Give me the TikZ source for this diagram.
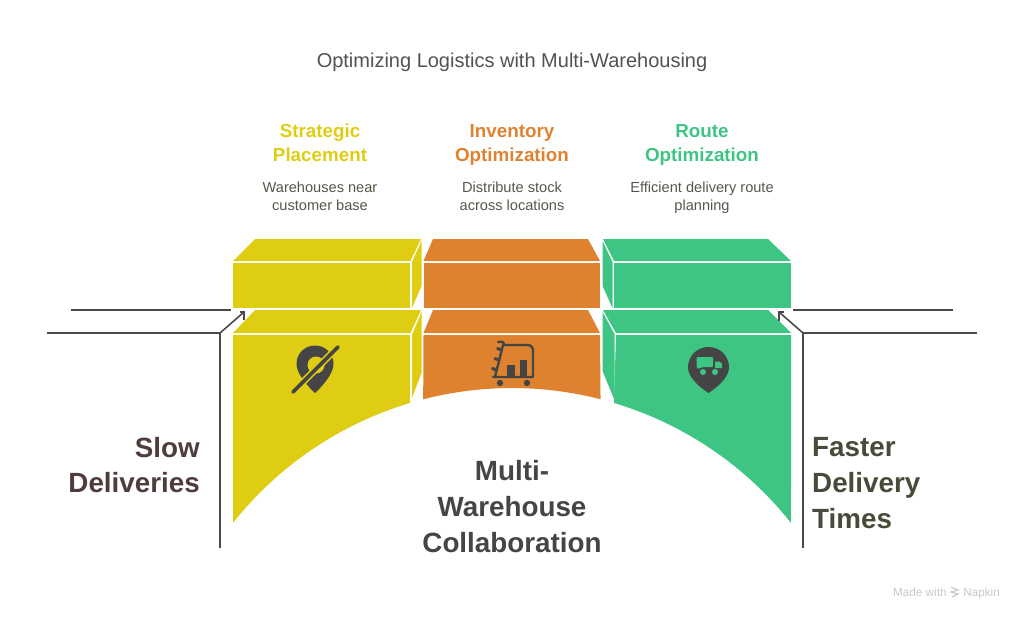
\documentclass[tikz,border=0pt]{standalone}
\usepackage{fontspec}
\setmainfont{Liberation Sans}
\definecolor{cy}{HTML}{DFCD14}
\definecolor{co}{HTML}{DF8230}
\definecolor{cg}{HTML}{3EC584}
\definecolor{ink}{HTML}{454545}
\definecolor{lin}{HTML}{4A4A4A}
\definecolor{cdesc}{HTML}{56564C}
\definecolor{cslow}{HTML}{503C3C}
\definecolor{cfast}{HTML}{464B3A}
\newcommand{\st}{\rule[-.22em]{0pt}{.94em}}
\tikzset{
  x=1pt,y=-1pt,
  conn/.style={draw=lin,line width=1.6pt,line join=miter},
  ttl/.style={text=#1,font=\bfseries\fontsize{18.8}{24}\selectfont,align=center,inner sep=0pt},
  desc/.style={text=cdesc,font=\fontsize{14.6}{18}\selectfont,align=center,inner sep=0pt},
  big/.style={text=#1,font=\bfseries\fontsize{27.8}{35.7}\selectfont,inner sep=0pt},
  foot/.style={inner sep=0pt,text=black!22,font=\fontsize{11.7}{13}\selectfont},
  iconline/.style={draw=ink,line width=2.4pt,line cap=round,line join=round},
}
\begin{document}
\begin{tikzpicture}
\useasboundingbox (0,0) rectangle (1024,619);
% upper row
\fill[cy] (233,261) -- (255,239) -- (421,239) -- (410.5,261) -- cycle;
\fill[cy] (233,263) rectangle (410,308);
\fill[cy] (412,262) -- (421.5,241) -- (421.5,286) -- (412,308) -- cycle;
\fill[co] (423.5,261) -- (433,239) -- (588,239) -- (600,261) -- cycle;
\fill[co] (423.5,263) rectangle (600,308);
\fill[cg] (614,261) -- (603,239) -- (768,239) -- (791,261) -- cycle;
\fill[cg] (614,263) rectangle (791,308);
\fill[cg] (602.5,241) -- (612.5,262) -- (612.5,308) -- (602.5,286) -- cycle;
% lower row
\fill[cy] (233,333) -- (255,310) -- (421,310) -- (410.5,333) -- cycle;
\fill[cy] (233,335) -- (410,335) -- plot[domain=-16.65:-51.6,samples=30] ({512+356*sin(\x)},{744-356*cos(\x)}) -- cycle;
\fill[cy] (412,335) -- (421.5,312) -- (421.5,373) -- (412,398) -- cycle;
\fill[co] (423.5,333) -- (433,310) -- (588,310) -- (600,333) -- cycle;
\fill[co] (423.5,335) -- (600,335) -- plot[domain=14.4:-14.45,samples=20] ({512+356*sin(\x)},{744-356*cos(\x)}) -- cycle;
\fill[cg] (616,333) -- (603,310) -- (768,310) -- (791,333) -- cycle;
\fill[cg] (616,335) -- (791,335) -- plot[domain=51.6:16.65,samples=30] ({512+356*sin(\x)},{744-356*cos(\x)}) -- cycle;
\fill[cg] (602.5,312) -- (614.5,334) -- (614.5,400) -- (602.5,371) -- cycle;
% connectors
\coordinate (la) at (71,310);   \coordinate (lb) at (231,310);
\coordinate (lc) at (47,333);   \coordinate (ld) at (220,333);
\coordinate (le) at (220,548);  \coordinate (lf) at (244,312);
\coordinate (lg) at (240,312);  \coordinate (lh) at (244,319.5);
\coordinate (ra) at (953,310);  \coordinate (rb) at (793,310);
\coordinate (rc) at (977,333);  \coordinate (rd) at (803,333);
\coordinate (re) at (803,548);  \coordinate (rf) at (779,312);
\coordinate (rg) at (784,312);  \coordinate (rh) at (779,320.5);
\draw[conn] (la) -- (lb);
\draw[conn] (lc) -- (ld) -- (le);
\draw[conn] (ld) -- (lf);
\draw[conn] (lg) -- (lf) -- (lh);
\draw[conn] (ra) -- (rb);
\draw[conn] (rc) -- (rd) -- (re);
\draw[conn] (rd) -- (rf);
\draw[conn] (rg) -- (rf) -- (rh);
% pin-off icon
\fill[ink] (296.5,364) .. controls (296.5,353.6) and (304.6,345.5) .. (315,345.5)
  .. controls (325.4,345.5) and (333.5,353.6) .. (333.5,364)
  .. controls (333.5,374) and (321.5,387) .. (315,393)
  .. controls (308.5,387) and (296.5,374) .. (296.5,364) -- cycle;
\fill[cy] (316,365) circle (8.5);
\fill[cy] (324,345) -- (345,345) -- (345,350) -- (334,358) -- cycle;
\draw[cy,line width=7pt] (293,392) -- (338,347);
\draw[ink,line width=3.6pt,line cap=round] (293,392) -- (338,347);
% cart icon
\draw[iconline] (503,345) -- (527,345) .. controls (531,345) and (533,347) .. (533,351) -- (533,377) -- (493,377);
\draw[iconline] (498,342) .. controls (503,341) and (505,343) .. (503,345) -- (495,377);
\draw[iconline,line width=3pt] (501.5,350) -- (497.5,348.5);
\draw[iconline,line width=3pt] (499,360) -- (495,358.5);
\draw[iconline,line width=3pt] (496.5,370) -- (492.5,368.5);
\fill[ink] (507,365) rectangle (515,377);
\fill[ink] (520,360) rectangle (527,377);
\fill[ink] (500,383) circle (3.2);
\fill[ink] (527,383) circle (3.2);
% truck pin icon
\fill[ink] (688,367.5) .. controls (688,356) and (697,347) .. (708.5,347)
  .. controls (720,347) and (729,356) .. (729,367.5)
  .. controls (729,378) and (716,388) .. (708.5,393)
  .. controls (701,388) and (688,378) .. (688,367.5) -- cycle;
\fill[cg,rounded corners=1pt] (696.5,357) -- (713,357) -- (713,367) -- (703,367) -- (698,369) -- (696.5,367) -- cycle;
\fill[cg] (715,361.5) -- (719.5,361.5) -- (722,364) -- (722,368) -- (715,368) -- cycle;
\fill[cg] (703,372) circle (3);
\fill[cg] (715,372) circle (3);
% texts
\node[inner sep=0pt,text=black!68,font=\fontsize{20}{24}\selectfont] (title) at (512,62) {\st Optimizing Logistics with Multi-Warehousing};
\node[ttl=cy] (t1) at (320,145) {\st Strategic\\\st Placement};
\node[ttl=co] (t2) at (512,145) {\st Inventory\\\st Optimization};
\node[ttl=cg] (t3) at (702,145) {\st Route\\\st Optimization};
\node[desc] (d1) at (320,198) {\st Warehouses near\\\st customer base};
\node[desc] (d2) at (512,198) {\st Distribute stock\\\st across locations};
\node[desc] (d3) at (702,198) {\st Efficient delivery route\\\st planning};
\node[big=cslow,align=right,anchor=east] (slow) at (200,468) {\st Slow\\\st Deliveries};
\node[big=ink,align=center] (multi) at (512,509.5) {\st Multi-\\\st Warehouse\\\st Collaboration};
\node[big=cfast,align=left,anchor=west] (fast) at (812,485.5) {\st Faster\\\st Delivery\\\st Times};
\node[foot,anchor=base west] (made) at (893,596) {Made with};
\node[foot,anchor=base east] (nap) at (1000,596) {Napkin};
\draw[black!22,line width=1.1pt] (951,587) -- (958,590) -- (951,592) -- (958,594) -- (952,597);
\end{tikzpicture}
\end{document}
